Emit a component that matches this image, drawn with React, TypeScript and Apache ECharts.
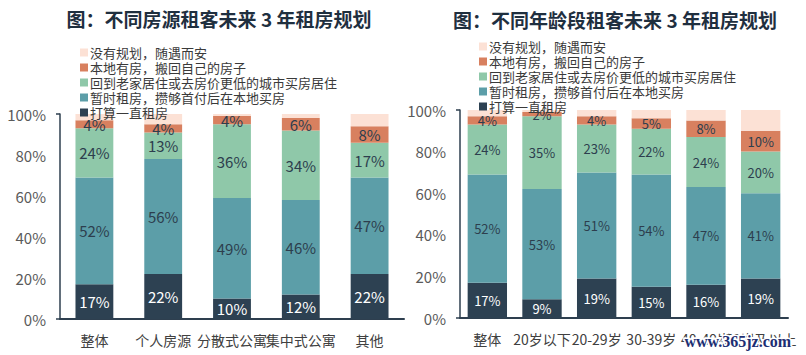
import React, { useEffect, useRef } from "react";
import * as echarts from "echarts";

const seriesNames = [
  "打算一直租房",
  "暂时租房，攒够首付后在本地买房",
  "回到老家居住或去房价更低的城市买房居住",
  "本地有房，搬回自己的房子",
  "没有规划，随遇而安",
];
const legendOrder = [...seriesNames].reverse();
const colors = ["#2d4152", "#5c9ea8", "#8fc8a9", "#d8805f", "#fce1d5"];

const leftTitle = "图：不同房源租客未来 3 年租房规划";
const rightTitle = "图：不同年龄段租客未来 3 年租房规划";

const sourceCategories = ["整体", "个人房源", "分散式公寓", "集中式公寓", "其他"];
const srcLongTerm = [17, 22, 10, 12, 22];
const srcTemporary = [52, 56, 49, 46, 47];
const srcHometown = [24, 13, 36, 34, 17];
const srcOwnHome = [4, 4, 4, 6, 8];
const srcNoPlan = [3, 5, 1, 2, 6];

const ageCategories = ["整体", "20岁以下", "20-29岁", "30-39岁", "40-49岁", "50岁及以上"];
const ageLongTerm = [17, 9, 19, 15, 16, 19];
const ageTemporary = [52, 53, 51, 54, 47, 41];
const ageHometown = [24, 35, 23, 22, 24, 20];
const ageOwnHome = [4, 2, 4, 5, 8, 10];
const ageNoPlan = [3, 1, 3, 4, 5, 10];

const yTicks = [0, 20, 40, 60, 80, 100];

const FONT = "'Noto Sans CJK SC', 'Noto Sans', sans-serif";

export default function App() {
  const ref = useRef<HTMLDivElement>(null);
  useEffect(() => {
    if (!ref.current) return;
    const chart = echarts.init(ref.current, null, { renderer: "svg" });
    const srcData = [srcLongTerm, srcTemporary, srcHometown, srcOwnHome, srcNoPlan];
    const ageData = [ageLongTerm, ageTemporary, ageHometown, ageOwnHome, ageNoPlan];

    const makeSeries = (data: number[][], idx: number, fontSize: number, gap: string) =>
      data.map((vals, i) => ({
        name: seriesNames[i],
        type: "bar",
        stack: "s" + idx,
        xAxisIndex: idx,
        yAxisIndex: idx,
        barCategoryGap: gap,
        data: vals,
        itemStyle: { color: colors[i] },
        label: {
          show: i < 4,
          position: "inside",
          formatter: "{c}%",
          color: i === 0 ? "#ffffff" : "#2d3e4e",
          fontSize,
          fontFamily: FONT,
        },
        emphasis: { disabled: true },
      }));

    const yAxisBase = (idx: number) => ({
      type: "value",
      gridIndex: idx,
      min: 0,
      max: 100,
      interval: 20,
      splitLine: { show: false },
      axisLine: { show: true, lineStyle: { color: "#2e3f4f", width: 1.5 } },
      axisTick: { show: true, customValues: [0, 100], length: 4, lineStyle: { color: "#2e3f4f", width: 1.5 } },
      axisLabel: {
        formatter: "{value}%",
        color: "#5a5a5a",
        fontSize: 15,
        margin: 14,
        fontFamily: FONT,
        customValues: yTicks,
      },
    });

    const xAxisBase = (idx: number, cats: string[]) => ({
      type: "category",
      gridIndex: idx,
      data: cats,
      axisLine: { show: true, lineStyle: { color: "#2e3f4f", width: 2 } },
      axisTick: { show: false },
      axisLabel: { color: "#404040", fontSize: 14, margin: 14, fontFamily: FONT, interval: 0 },
    });

    const legendBase = (left: number, top: number) => ({
      orient: "vertical",
      left,
      top,
      itemWidth: 8,
      itemHeight: 8,
      itemGap: 2,
      icon: "rect",
      selectedMode: false,
      data: legendOrder,
      textStyle: { color: "#3a3a3a", fontSize: 13, fontFamily: FONT, padding: [0, 0, 0, -3] },
    });

    chart.setOption({
      animation: false,
      textStyle: { fontFamily: FONT },
      title: [
        {
          text: leftTitle,
          left: 214,
          top: 4,
          textAlign: "center",
          textStyle: { color: "#1f2f3f", fontSize: 19, fontWeight: "bold", fontFamily: FONT },
        },
        {
          text: rightTitle,
          left: 610,
          top: 5,
          textAlign: "center",
          textStyle: { color: "#1f2f3f", fontSize: 19, fontWeight: "bold", fontFamily: FONT },
        },
      ],
      legend: [legendBase(75, 41), legendBase(474, 35)],
      grid: [
        { left: 60, top: 114, width: 344, height: 205 },
        { left: 460, top: 110, width: 328, height: 208 },
      ],
      xAxis: [xAxisBase(0, sourceCategories), xAxisBase(1, ageCategories)],
      yAxis: [yAxisBase(0), yAxisBase(1)],
      series: [...makeSeries(srcData, 0, 15, "45%"), ...makeSeries(ageData, 1, 13, "28%")],
      graphic: [
        {
          type: "text",
          left: 683,
          top: 332,
          z: 100,
          style: {
            text: "www.365jz.com",
            fill: "#1d2f73",
            font: "bold 16px 'Liberation Serif', serif",
            stroke: "#ffffff",
            lineWidth: 3,
          },
        },
      ],
    });
    return () => chart.dispose();
  }, []);
  return (
    <div
      ref={ref}
      style={{ position: "fixed", left: 0, top: 0, width: 806, height: 355, background: "#ffffff" }}
    />
  );
}
